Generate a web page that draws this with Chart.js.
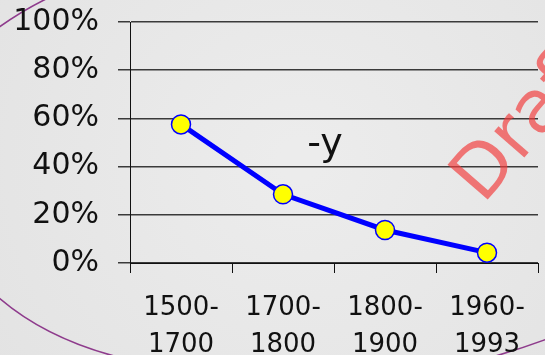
<!DOCTYPE html>
<html>
<head>
<meta charset="utf-8">
<script src="https://cdn.jsdelivr.net/npm/chart.js@4/dist/chart.umd.min.js"></script>
<style>
  html, body { margin: 0; padding: 0; overflow: hidden; background: #e8e8e8; }
  #wrap { position: relative; width: 545px; height: 355px; }
</style>
</head>
<body>
<div id="wrap"><canvas id="c" width="545" height="355"></canvas></div>
<script>
  // periods on the x axis, two lines each
  const periods = [["1500-", "1700"], ["1700-", "1800"], ["1800-", "1900"], ["1960-", "1993"]];
  // share, in percent
  const shares = [57.5, 28.5, 13.7, 4.3];
  const yTicks = [0, 20, 40, 60, 80, 100];

  const FONT = "'DejaVu Sans', Verdana, sans-serif";

  // slide background, purple arcs, note and watermark
  const backdrop = {
    id: "backdrop",
    beforeDraw(chart) {
      const { ctx, width, height } = chart;
      ctx.save();
      const g = ctx.createRadialGradient(width * 0.55, height * 0.45, 20, width * 0.55, height * 0.45, width * 0.75);
      g.addColorStop(0, "#ececec");
      g.addColorStop(1, "#e2e2e2");
      ctx.fillStyle = g;
      ctx.fillRect(0, 0, width, height);
      ctx.strokeStyle = "#8e3b8c";
      ctx.lineWidth = 1.6;
      ctx.beginPath();
      ctx.moveTo(-2, 28);
      ctx.quadraticCurveTo(20, 12, 46, -1);
      ctx.stroke();
      ctx.beginPath();
      ctx.moveTo(-2, 297);
      ctx.quadraticCurveTo(45, 338, 118, 357);
      ctx.stroke();
      ctx.beginPath();
      ctx.moveTo(492, 357);
      ctx.quadraticCurveTo(520, 349, 547, 339);
      ctx.stroke();
      ctx.restore();
    },
    afterDraw(chart) {
      const { ctx } = chart;
      ctx.save();
      ctx.fillStyle = "#111";
      ctx.font = "38px " + FONT;
      ctx.textAlign = "center";
      ctx.textBaseline = "alphabetic";
      ctx.fillText("-y", 325, 155);
      // watermark
      ctx.translate(483, 205);
      ctx.rotate(-49 * Math.PI / 180);
      ctx.fillStyle = "rgba(242, 60, 60, 0.68)";
      ctx.font = "73px " + FONT;
      ctx.textAlign = "left";
      ctx.fillText("Draft", 0, 0);
      ctx.restore();
    }
  };

  new Chart(document.getElementById("c"), {
    type: "line",
    data: {
      labels: periods,
      datasets: [{
        data: shares,
        borderColor: "#0000ff",
        borderWidth: 5,
        pointRadius: 9.5,
        pointHoverRadius: 9.5,
        pointBackgroundColor: "#ffff00",
        pointBorderColor: "#0000ff",
        pointBorderWidth: 1.5,
        tension: 0,
      }]
    },
    options: {
      responsive: false,
      animation: false,
      events: [],
      layout: { autoPadding: false, padding: { top: 22, right: 7, bottom: 0, left: 0 } },
      plugins: { legend: { display: false }, tooltip: { enabled: false } },
      scales: {
        x: {
          offset: true,
          grid: { offset: true, drawOnChartArea: false, drawTicks: true, tickLength: 10, color: "#111", lineWidth: 1 },
          border: { display: true, color: "#111", width: 1 },
          ticks: { color: "#111", padding: 17, maxRotation: 0, font: { family: FONT, size: 26, lineHeight: 1.42 } },
          afterFit: (s) => { s.height = 92; s.paddingLeft = 0; s.paddingRight = 0; }
        },
        y: {
          min: 0, max: 100,
          afterBuildTicks: (s) => { s.ticks = yTicks.map((v) => ({ value: v })); },
          grid: { color: "#3a3a3a", lineWidth: 1.5, tickLength: 12, drawTicks: true },
          border: { display: true, color: "#111", width: 1 },
          ticks: { color: "#111", padding: 19, font: { family: FONT, size: 30 }, callback: (v) => v + "%" },
          afterFit: (s) => { s.width = 130; s.paddingTop = 0; s.paddingBottom = 0; }
        }
      }
    },
    plugins: [backdrop]
  });
</script>
</body>
</html>
